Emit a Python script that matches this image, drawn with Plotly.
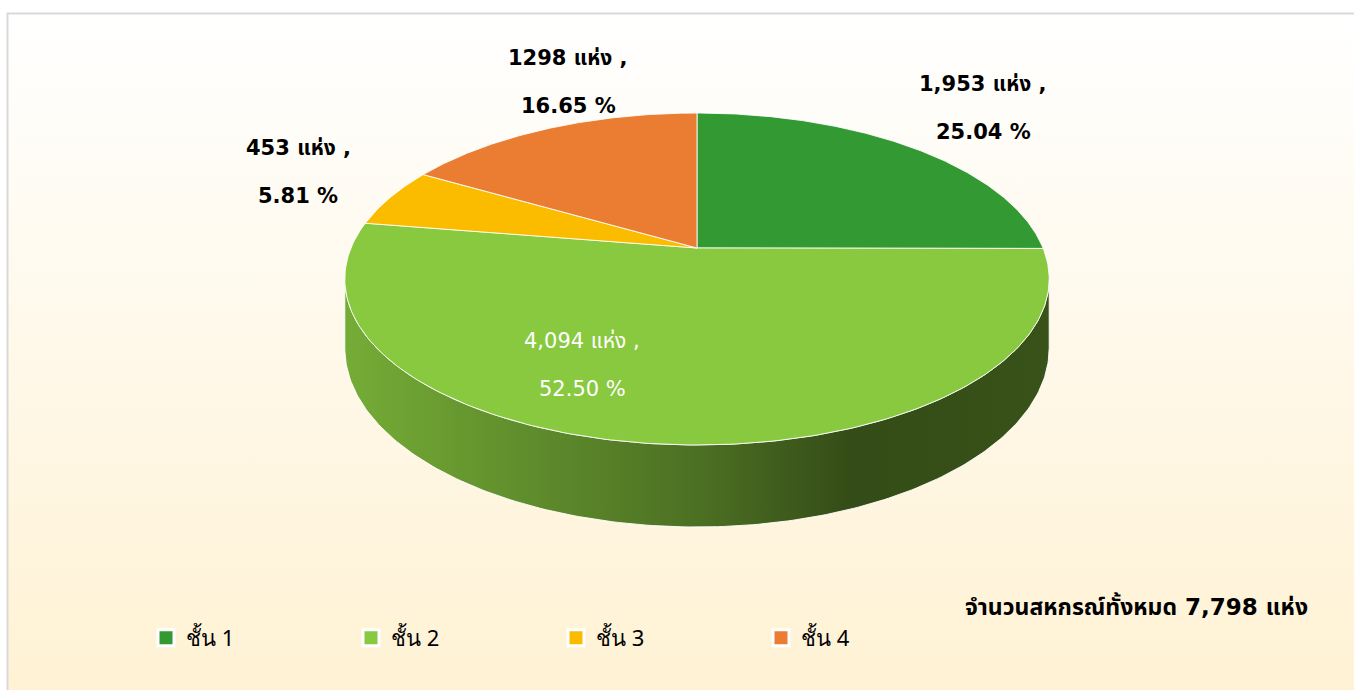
import numpy as np
import plotly.graph_objects as go

# ---------------- data ----------------
CATEGORIES = ["ชั้น 1", "ชั้น 2", "ชั้น 3", "ชั้น 4"]
COUNTS = [1953, 4094, 453, 1298]
COUNT_TEXT = ["1,953", "4,094", "453", "1298"]
TOTAL_TEXT = "7,798"
UNIT = "แห่ง"
TOTAL_CAPTION = "จำนวนสหกรณ์ทั้งหมด"

# ---------------- styles ----------------
COLORS = ["#339933", "#89C93F", "#FBBC00", "#EB7D32"]
LABEL_COLORS = ["#000000", "#FFFFFF", "#000000", "#000000"]
LABEL_BOLD = [True, False, True, True]
# label centre positions (pixel space): (x, y of first line)
LABEL_POS = [(983, 84), (582, 341), (298, 148), (568, 58)]
LINE_GAP = 48
FONT = "'DejaVu Sans', Tahoma, 'Noto Sans Thai', 'Noto Sans', sans-serif"
LEGEND_FONT = "'Noto Sans', 'DejaVu Sans', sans-serif"

W, H_PX = 1354, 690
# perspective pie geometry
CX, CY = 697, 248
RX, AY, B, DEPTH = 346, 160.2, 0.1867, 66.7


def proj(t, drop=0.0):
    s = 1.0 / (1.0 + B * np.sin(t))
    return CX + RX * np.cos(t) * s, CY - AY * np.sin(t) * s + drop * DEPTH * s


def rgb(hexc, f):
    hexc = hexc.lstrip("#")
    r, g, b = (int(hexc[i:i + 2], 16) for i in (0, 2, 4))
    return "rgb(%d,%d,%d)" % (r * f, g * f, b * f)


fig = go.Figure()

# background panel with vertical gradient
fig.add_trace(go.Scatter(
    x=[7, W, W, 7, 7], y=[13, 13, H_PX, H_PX, 13], mode="lines",
    line=dict(width=0), fill="toself", hoverinfo="skip", showlegend=False,
    fillgradient=dict(type="vertical", start=13, stop=H_PX,
                      colorscale=[[0, "#FFFFFF"], [1, "#FFF2D4"]]),
))

total = float(sum(COUNTS))
fr = np.array(COUNTS) / total
cum = np.concatenate([[0], np.cumsum(fr)])
t_start = np.pi / 2 - 2 * np.pi * cum[:-1]
t_end = np.pi / 2 - 2 * np.pi * cum[1:]

# side wall (visible front part)
t_left = np.pi + np.arcsin(B)
t_right = 2 * np.pi - np.arcsin(B)
for i in range(len(COUNTS)):
    lo, hi = t_end[i], t_start[i]
    for shift in (0, 2 * np.pi, -2 * np.pi):
        a = max(lo + shift, t_left)
        b_ = min(hi + shift, t_right)
        if b_ > a:
            ts = np.linspace(a, b_, 200)
            xt, yt = proj(ts)
            xb, yb = proj(ts[::-1], 1.0)
            xs = np.concatenate([xt, xb, xt[:1]])
            ys = np.concatenate([yt, yb, yt[:1]])
            fig.add_trace(go.Scatter(
                x=xs, y=ys, mode="lines", fill="toself",
                line=dict(color="rgba(255,255,255,0.9)", width=1),
                hoverinfo="skip", showlegend=False,
                fillgradient=dict(type="horizontal", colorscale=[
                    [0, rgb(COLORS[i], 0.86)], [0.5, rgb(COLORS[i], 0.56)],
                    [0.72, rgb(COLORS[i], 0.38)], [1, rgb(COLORS[i], 0.41)]]),
            ))

# top faces
for i in range(len(COUNTS)):
    ts = np.linspace(t_start[i], t_end[i], 200)
    xa, ya = proj(ts)
    xs = np.concatenate([[CX], xa, [CX]])
    ys = np.concatenate([[CY], ya, [CY]])
    fig.add_trace(go.Scatter(
        x=xs, y=ys, mode="lines", fill="toself", fillcolor=COLORS[i],
        line=dict(color="rgba(255,255,255,0.85)", width=1),
        name=CATEGORIES[i], hoverinfo="name", showlegend=False,
    ))

# legend entries
for i, c in enumerate(CATEGORIES):
    fig.add_trace(go.Scatter(
        x=[None], y=[None], mode="markers", name=c,
        marker=dict(symbol="square", size=17, color=COLORS[i],
                    line=dict(color="white", width=3)),
    ))

# data labels
ann = []
for i in range(len(COUNTS)):
    pct = "%.2f %%" % (fr[i] * 100)
    l1 = "%s %s ," % (COUNT_TEXT[i], UNIT)
    x, y = LABEL_POS[i]
    for k, txt in enumerate([l1, pct]):
        if LABEL_BOLD[i]:
            txt = "<b>%s</b>" % txt
        ann.append(dict(x=x, y=y + k * LINE_GAP, xref="x", yref="y", text=txt,
                        showarrow=False, xanchor="center", yanchor="middle",
                        font=dict(family=FONT, size=21, color=LABEL_COLORS[i])))

ann.append(dict(x=1310, y=606, xref="x", yref="y",
                text="<b>%s %s %s</b>" % (TOTAL_CAPTION, TOTAL_TEXT, UNIT),
                showarrow=False, xanchor="right", yanchor="middle",
                font=dict(family=FONT, size=23, color="#000000")))

shapes = [dict(type="path", path="M 7.5 690 L 7.5 13.5 L 1354 13.5", xref="x", yref="y",
               line=dict(color="#D9D9D9", width=2), layer="above")]

fig.update_layout(
    width=W, height=H_PX, margin=dict(l=0, r=0, t=0, b=0),
    paper_bgcolor="white", plot_bgcolor="rgba(0,0,0,0)",
    xaxis=dict(range=[0, W], visible=False, fixedrange=True),
    yaxis=dict(range=[H_PX, 0], visible=False, fixedrange=True),
    annotations=ann, shapes=shapes,
    showlegend=True,
    legend=dict(orientation="h", x=146 / W, y=1 - 638 / H_PX, xanchor="left", yanchor="middle",
                entrywidth=160, entrywidthmode="pixels", bgcolor="rgba(0,0,0,0)",
                font=dict(family=LEGEND_FONT, size=22, color="#000000"), itemsizing="trace"),
)

fig.write_html("out.html", config={"displayModeBar": False},
               post_script="document.body.style.margin='0';")
